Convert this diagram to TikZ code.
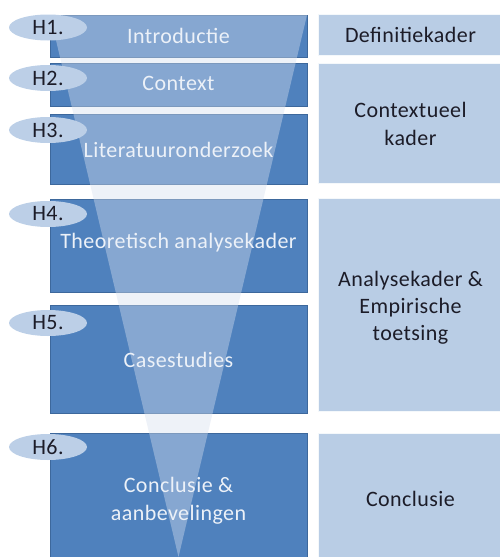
\documentclass[tikz,border=0pt]{standalone}
\usepackage{fontspec}
\setmainfont{Carlito}[LetterSpace=2]
\usetikzlibrary{shapes.geometric}
\definecolor{boxblue}{RGB}{79,129,189}
\definecolor{boxedge}{RGB}{61,104,156}
\definecolor{lightbox}{RGB}{185,205,229}
\definecolor{funnel}{RGB}{214,223,238}
\definecolor{ovalc}{RGB}{188,207,231}
\definecolor{intext}{RGB}{236,241,248}
\definecolor{darktext}{RGB}{28,28,40}
\tikzset{
  leftbox/.style={draw=boxedge, line width=0.8pt, fill=boxblue, rectangle, inner sep=0pt, outer sep=0pt, minimum width=257pt},
  rightbox/.style={draw=white!85!lightbox, line width=0.6pt, fill=lightbox, rectangle, inner sep=0pt, outer sep=0pt, minimum width=185pt},
  boxtext/.style={text=intext, align=center, font=\fontsize{22}{28}\selectfont},
  sidetext/.style={text=darktext, align=center, font=\fontsize{22}{27}\selectfont},
  oval/.style={ellipse, fill=ovalc, draw=none, minimum width=78pt, minimum height=26pt, inner sep=0pt},
  hlabel/.style={text=darktext, font=\fontsize{22}{26}\selectfont, inner sep=0pt}
}
\begin{document}
\begin{tikzpicture}[x=1pt,y=-1pt]
\useasboundingbox (0,0) rectangle (499,557);
% left boxes
\node[leftbox, minimum height=42pt] (b1) at (178.5,36) {};
\node[leftbox, minimum height=43pt] (b2) at (178.5,84.5) {};
\node[leftbox, minimum height=70pt] (b3) at (178.5,149) {};
\node[leftbox, minimum height=93pt] (b4) at (178.5,245.5) {};
\node[leftbox, minimum height=108pt] (b5) at (178.5,359) {};
\node[leftbox, minimum height=132pt] (b6) at (178.5,499) {};
% right boxes
\node[rightbox, minimum height=41pt] (r1) at (410.5,34.5) {};
\node[rightbox, minimum height=120pt] (r2) at (410.5,123) {};
\node[rightbox, minimum height=213pt] (r3) at (410.5,304.5) {};
\node[rightbox, minimum height=132pt] (r4) at (410.5,499) {};
% funnel
\coordinate (fl) at (50,15);
\coordinate (fr) at (307,15);
\coordinate (fa) at (178.5,557);
\fill[funnel, fill opacity=0.41] (fl) -- (fr) -- (fa) -- cycle;
% texts in left boxes
\node[boxtext] (t1) at (b1.center) {Introductie};
\node[boxtext] (t2) at ([yshift=1.5pt]b2.center) {Context};
\node[boxtext] (t3) at ([yshift=-1pt]b3.center) {Literatuuronderzoek};
\node[boxtext] (t4) at ([yshift=2.5pt]b4.center) {Theoretisch analysekader};
\node[boxtext] (t5) at ([yshift=-1pt]b5.center) {Casestudies};
\node[boxtext] (t6) at ([yshift=-2pt]b6.center) {Conclusie \&\\aanbevelingen};
% texts in right boxes
\node[sidetext, font=\fontsize{22}{28}\selectfont] (s1) at (r1.center) {Definitiekader};
\node[sidetext, font=\fontsize{22}{28}\selectfont] (s2) at ([yshift=-1pt]r2.center) {Contextueel\\kader};
\node[sidetext] (s3) at ([yshift=-3.5pt]r3.center) {Analysekader \&\\Empirische\\toetsing};
\node[sidetext] (s4) at (r4.center) {Conclusie};
% ovals with labels
\node[oval] (o1) at (48,27.5) {};
\node[oval] (o2) at (48,78) {};
\node[oval] (o3) at (48,130) {};
\node[oval] (o4) at (48,214) {};
\node[oval] (o5) at (48,323) {};
\node[oval] (o6) at (48,447) {};
\node[hlabel] (h1) at (o1.center) {H1.};
\node[hlabel] (h2) at (o2.center) {H2.};
\node[hlabel] (h3) at (o3.center) {H3.};
\node[hlabel] (h4) at (o4.center) {H4.};
\node[hlabel] (h5) at (o5.center) {H5.};
\node[hlabel] (h6) at (o6.center) {H6.};
\end{tikzpicture}
\end{document}
